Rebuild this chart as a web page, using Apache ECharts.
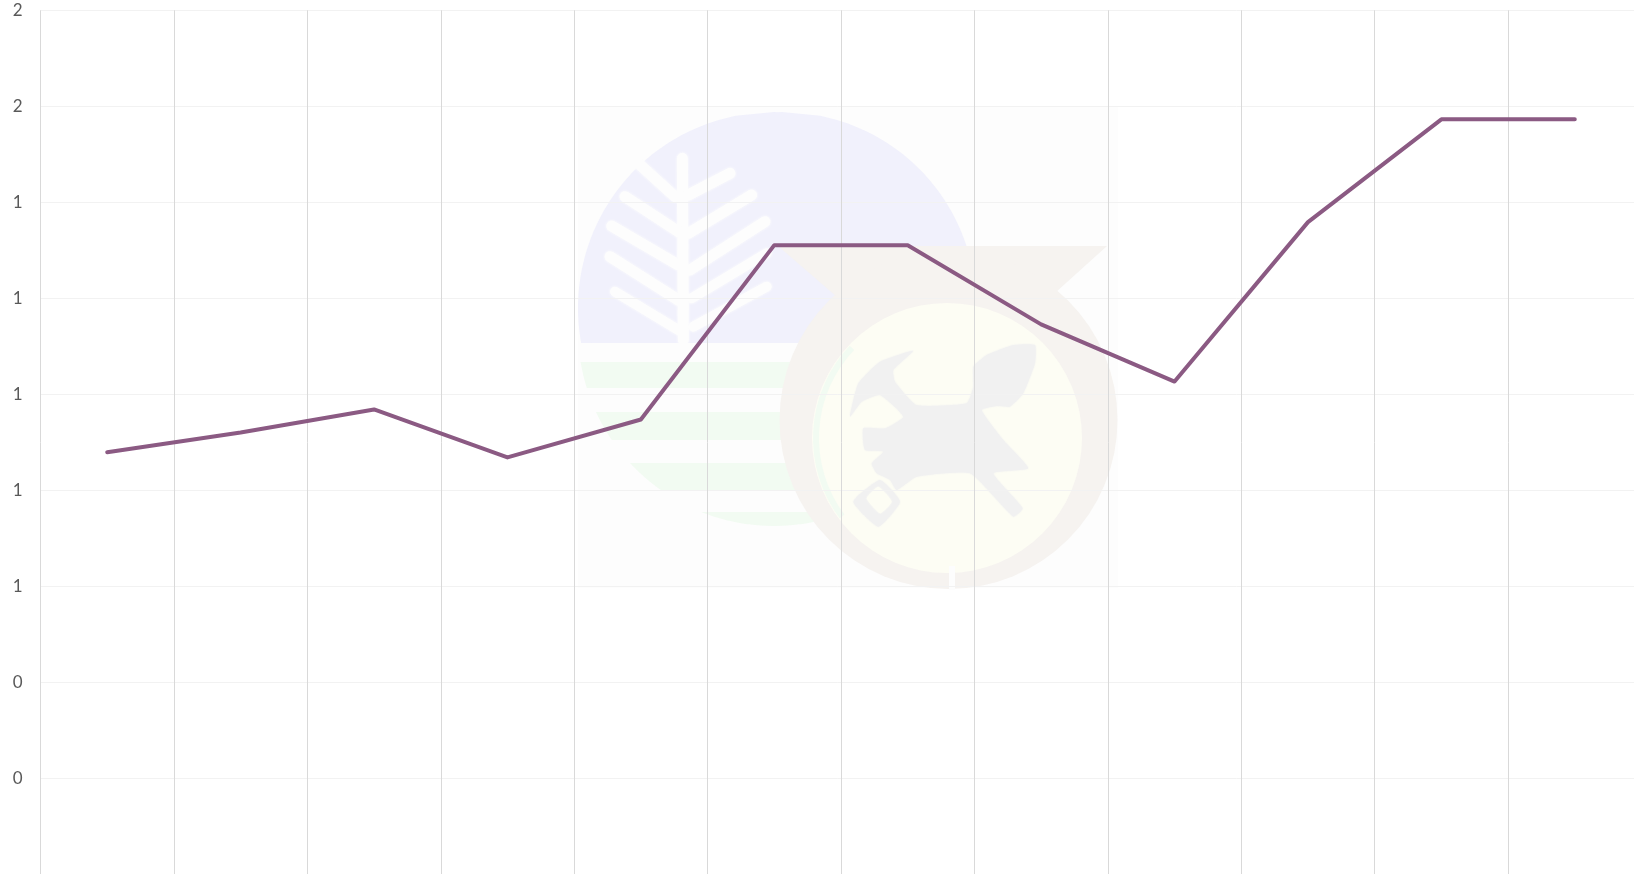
<!DOCTYPE html>
<html>
<head>
<meta charset="utf-8">
<title>chart</title>
<script src="https://cdn.jsdelivr.net/npm/echarts@6/dist/echarts.min.js"></script>
<style>
	html, body { margin: 0; padding: 0; background: #fff; overflow: hidden; }
	#main { width: 1634px; height: 874px; }
</style>
</head>
<body>
<div id="main"></div>
<script>
//x axis has no printed labels in the picture, just 12 slots
var categories = ['1','2','3','4','5','6','7','8','9','10','11','12'];
var lineValues = [0.88,0.921,0.969,0.869,0.948,1.311,1.311,1.146,1.027,1.359,1.573,1.573];
var yMin = 0;
var yMax = 1.8;
var yStep = 0.2;

/*********watermark, coordinates*****/
function leafPt(a, b) {
	return [575 + a / 3, 140 + b / 3];
}
function crestPt(a, b) {
	return [800 + a / 3, 320 + b / 3];
}
function poly(points, conv, color) {
	return {
		type: 'polygon', z: -1, silent: true,
		shape: { points: points.map(function (p) { return conv(p[0], p[1]); }), smooth: 0.15 },
		style: { fill: color, shadowBlur: 2, shadowColor: color }
	};
}
function stroke(a, b, c, d, w, color) {
	var p1 = leafPt(a, b), p2 = leafPt(c, d);
	return {
		type: 'line', z: -1, silent: true,
		shape: { x1: p1[0], y1: p1[1], x2: p2[0], y2: p2[1] },
		style: { stroke: color, lineWidth: w, lineCap: 'round', shadowBlur: 3, shadowColor: color }
	};
}
//slice of a circle between two y values
function band(cx, cy, r, y1, y2, color) {
	var pts = [], i, y, dx, rows = 60;
	for (i = 0; i <= rows; i++) {
		y = y1 + (y2 - y1) * i / rows;
		dx = Math.sqrt(Math.max(0, r * r - (y - cy) * (y - cy)));
		pts.push([cx - dx, y]);
	}
	for (i = rows; i >= 0; i--) {
		y = y1 + (y2 - y1) * i / rows;
		dx = Math.sqrt(Math.max(0, r * r - (y - cy) * (y - cy)));
		pts.push([cx + dx, y]);
	}
	return { type: 'polygon', z: -1, silent: true, shape: { points: pts }, style: { fill: color } };
}
var paleC = '#fdfdfd';
var blueC = '#f1f1fc';
var greenC = '#f2fbf2';
var ringC = '#f6f3f0';
var yellowC = '#fdfdf4';
var greyC = '#f1f1f1';

var crestShape = [[150,290],[175,190],[240,125],[340,92],[280,150],[285,185],[350,255],[500,250],[520,200],[520,140],[560,105],[640,75],[705,75],[705,130],[670,220],[630,260],[590,258],[545,270],[610,360],[685,445],[580,460],[668,565],[640,590],[510,460],[350,470],[290,510],[270,480],[230,460],[215,430],[250,395],[195,390],[190,325],[255,325],[310,290],[240,225],[185,245]];
var diamondOuter = [[240,480],[300,545],[235,620],[160,545]];
var diamondInner = [[235,500],[275,545],[240,580],[200,535]];

var watermark = [
	{ type: 'rect', z: -2, silent: true, shape: { x: 578, y: 106, width: 540, height: 482 }, style: { fill: paleC } },
	band(774, 308, 196, 112, 343, blueC),
	band(782, 306, 194, 112, 343, blueC),
	band(774, 330, 196, 362, 388, greenC),
	band(774, 330, 196, 412, 440, greenC),
	band(774, 330, 196, 463, 490, greenC),
	band(774, 330, 196, 512, 526, greenC),
	//leaf
	stroke(322, 55, 325, 600, 11, paleC),
	stroke(300, 170, 190, 70, 11, paleC),
	stroke(310, 275, 150, 170, 11, paleC),
	stroke(310, 375, 110, 258, 11, paleC),
	stroke(310, 480, 105, 350, 11, paleC),
	stroke(310, 570, 120, 455, 10, paleC),
	stroke(340, 165, 465, 100, 11, paleC),
	stroke(340, 280, 530, 165, 11, paleC),
	stroke(345, 390, 570, 245, 11, paleC),
	stroke(350, 475, 575, 340, 10, paleC),
	stroke(355, 560, 575, 440, 10, paleC),
	//second badge
	{
		type: 'polygon', z: -1, silent: true,
		shape: { points: [[778, 246], [1107, 246], [1056, 292], [1100, 360], [1000, 430], [900, 430], [837, 297]] },
		style: { fill: ringC }
	},
	{ type: 'circle', z: -1, silent: true, shape: { cx: 948.5, cy: 420, r: 169 }, style: { fill: ringC } },
	{ type: 'circle', z: -1, silent: true, shape: { cx: 947, cy: 438, r: 135 }, style: { fill: yellowC } },
	{ type: 'arc', z: -1, silent: true, shape: { cx: 947, cy: 438, r: 131, startAngle: 2.5, endAngle: 3.9 }, style: { stroke: greenC, lineWidth: 6, fill: null } },
	{ type: 'rect', z: -1, silent: true, shape: { x: 949, y: 566, width: 6, height: 24 }, style: { fill: paleC } },
	poly(crestShape, crestPt, greyC),
	poly(diamondOuter, crestPt, greyC),
	poly(diamondInner, crestPt, yellowC)
];

var option = {
	animation: false,
	backgroundColor: '#fff',
	grid: { left: 40.5, top: 10.3, width: 1601, height: 864.5, outerBoundsMode: 'none', containLabel: false },
	xAxis: {
		type: 'category',
		data: categories,
		axisLine: { show: false },
		axisTick: { show: false },
		axisLabel: { show: false },
		splitLine: { show: true, lineStyle: { color: '#d9d9d9', width: 1 } }
	},
	yAxis: {
		type: 'value',
		min: yMin,
		max: yMax,
		interval: yStep,
		axisLine: { show: false },
		axisTick: { show: false },
		axisLabel: {
			showMinLabel: false,
			color: '#595959',
			fontFamily: 'Lato',
			fontSize: 17,
			margin: 18,
			formatter: function (v) { return Math.round(v).toString(); }
		},
		splitLine: { show: true, lineStyle: { color: '#f2f2f2', width: 1 } }
	},
	graphic: { elements: watermark },
	series: [{
		type: 'line',
		data: lineValues,
		symbol: 'none',
		z: 5,
		lineStyle: { color: '#8b5a83', width: 4, cap: 'round', join: 'round' }
	}]
};

var chartMain = echarts.init(document.getElementById('main'), null, { renderer: 'canvas' });
chartMain.setOption(option);
</script>
</body>
</html>
